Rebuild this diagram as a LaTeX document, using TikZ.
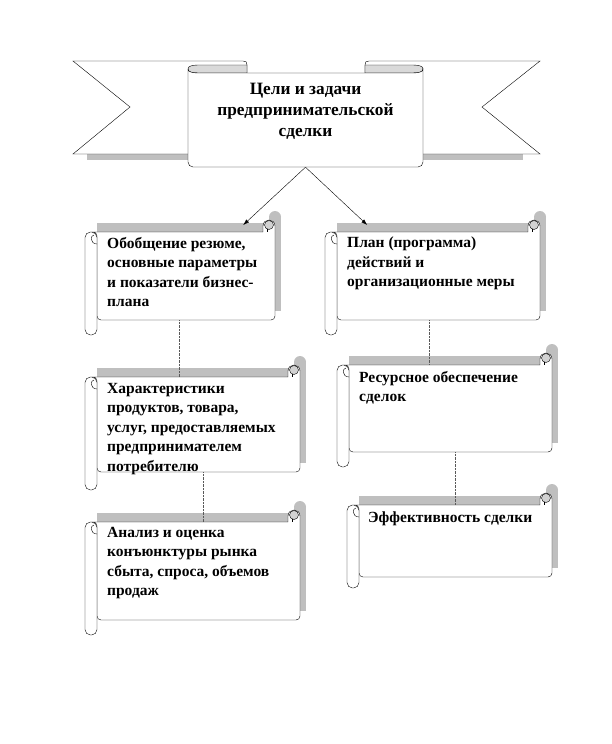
\documentclass[tikz,border=0pt]{standalone}
\usepackage{fontspec}
\setmainfont{Liberation Serif}
\usetikzlibrary{positioning,arrows.meta}

% scroll: name, left, top, right, bottom, end of the roll
\newcommand{\scroll}[6]{
  \begin{scope}[shift={(6,-9)}]
    \fill[gray!50] (#2+6,#3) rectangle (#4,#5);
    \fill[gray!50] (#4-6,#3-6) circle (6);
    \fill[gray!50] (#4-12,#3-6) rectangle (#4,#3);
  \end{scope}
  \draw[fill=white] (#2+6,#3) -- (#4-12,#3) -- (#4-12,#3-6) .. controls (#4-12,#3-14) and (#4,#3-14) .. (#4,#3-6)
    [rounded corners=4pt] -- (#4,#5) -- (#2+12,#5) -- (#2+12,#3) -- cycle;
  \draw[fill=gray!35] (#4-6,#3-7) circle (4.5);
  \draw (#4-8,#3-3) -- (#4-8,#3);
  \draw[fill=white,rounded corners=5.5pt] (#2,#3) rectangle (#2+12,#6);
  \draw (#2+12,#3+12) .. controls (#2+5,#3+12) and (#2+5,#3+3) .. (#2+9,#3+3);
  \node[inner sep=0,minimum width={(#4-#2)*1pt},minimum height={(#5-#3)*1pt},anchor=north west] (#1) at (#2,#3) {};
}

\begin{document}
\begin{tikzpicture}[x=1pt,y=-1pt,
  boxtext/.style={align=left,inner sep=0,font=\bfseries\fontsize{15.5}{19.5}\selectfont},
  link/.style={densely dotted,gray!70!black},
  arrow/.style={-{Latex[length=6pt,width=4pt]}}]
\useasboundingbox (0,0) rectangle (612,744);

% banner
\fill[gray!50] (87,154) rectangle (188,160);
\fill[gray!50] (423,154) rectangle (523,160);
\draw[fill=white] (73,61) -- (243,61) .. controls (246,61) and (247,62) .. (247,65) -- (247,154) -- (73,154) -- (130,107) -- cycle;
\draw[fill=white] (540,61) -- (369,61) .. controls (366,61) and (365,62) .. (365,65) -- (365,154) -- (540,154) -- (482,107) -- cycle;
\draw[fill=gray!30] (188,69) .. controls (188,66) and (192,65) .. (200,65) -- (247,65) -- (247,73) -- (200,73) .. controls (192,73) and (188,72) .. (188,69) -- cycle;
\draw[fill=gray!30] (423,69) .. controls (423,66) and (419,65) .. (411,65) -- (365,65) -- (365,73) -- (411,73) .. controls (419,73) and (423,72) .. (423,69) -- cycle;
\draw[fill=white] (188,69) .. controls (188,72) and (192,73) .. (200,73) -- (411,73) .. controls (419,73) and (423,72) .. (423,69)
  [rounded corners=5pt] -- (423,167) -- (188,167) -- (188,69);
\node[minimum width=235pt,minimum height=98pt,inner sep=0] (goal) at (305.5,118) {};
\node[font=\bfseries\fontsize{17.3}{21}\selectfont,align=center] (goaltext) at (305.5,111) {Цели и задачи\\предпринимательской\\сделки};

% scrolls
\scroll{resume}{85}{232}{275}{320}{335}
\scroll{plan}{325}{232}{540}{320}{335}
\scroll{charact}{85}{377}{300}{472}{490}
\scroll{resource}{337}{365}{552}{452}{467}
\scroll{analysis}{85}{522}{300}{620}{635}
\scroll{effect}{347}{505}{552}{577}{588}

\node[boxtext,below right=5pt and 22pt of resume.north west] (resumetext) {Обобщение резюме,\\основные параметры\\и показатели бизнес-\\плана};
\node[boxtext,below right=5pt and 22pt of plan.north west] (plantext) {План (программа)\\действий и\\организационные меры};
\node[boxtext,below right=6pt and 22pt of charact.north west] (characttext) {Характеристики\\продуктов, товара,\\услуг, предоставляемых\\предпринимателем\\потребителю};
\node[boxtext,below right=6pt and 22pt of resource.north west] (resourcetext) {Ресурсное обеспечение\\сделок};
\node[boxtext,below right=5pt and 22pt of analysis.north west] (analysistext) {Анализ и оценка\\конъюнктуры рынка\\сбыта, спроса, объемов\\продаж};
\node[boxtext,below right=7pt and 21pt of effect.north west] (effecttext) {Эффективность сделки};

% connectors
\draw[arrow] (goal.south) -- ([xshift=63pt,yshift=7pt]resume.north);
\draw[arrow] (goal.south) -- ([xshift=-65.5pt,yshift=7pt]plan.north);
\draw[link] ([xshift=-1pt]resume.south) -- ([xshift=-1pt]resume.south |- charact.north);
\draw[link] ([xshift=10.5pt]charact.south) -- ([xshift=10.5pt]charact.south |- analysis.north);
\draw[link] ([xshift=-3.5pt]plan.south) -- ([xshift=-3.5pt]plan.south |- resource.north);
\draw[link] ([xshift=10.5pt]resource.south) -- ([xshift=10.5pt]resource.south |- effect.north);
\end{tikzpicture}
\end{document}
